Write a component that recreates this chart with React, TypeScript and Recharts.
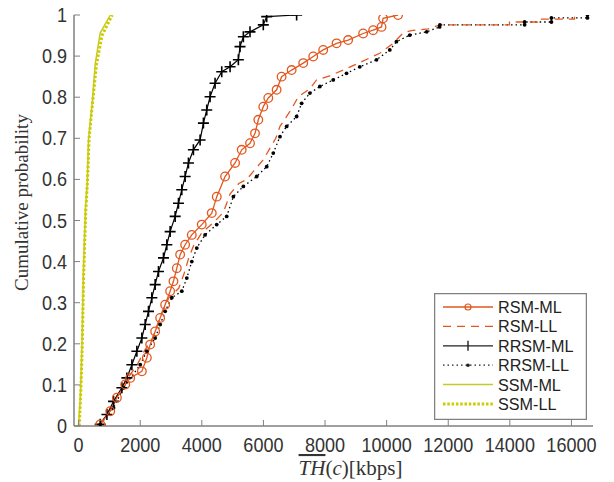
import React from 'react';
import { LineChart, Line, XAxis, YAxis, Legend } from 'recharts';

// x = mean throughput [kbps], y = cumulative probability
const rsmMlX = [703, 1027, 1243, 1513, 1675, 2053, 2215, 2323, 2485, 2647, 2809, 2971, 3079, 3188, 3296, 3458, 3674, 3998, 4323, 4485, 4755, 5079, 5295, 5565, 5727, 5834, 5996, 6158, 6428, 6590, 6916, 7292, 7617, 7940, 8375, 8750, 9237, 9561, 9834, 9885, 10371];
const rsmMlY = [0.004, 0.036, 0.069, 0.101, 0.117, 0.133, 0.166, 0.198, 0.23, 0.263, 0.295, 0.328, 0.352, 0.384, 0.417, 0.441, 0.465, 0.49, 0.518, 0.558, 0.607, 0.64, 0.672, 0.688, 0.712, 0.745, 0.777, 0.798, 0.818, 0.85, 0.866, 0.883, 0.899, 0.915, 0.931, 0.939, 0.955, 0.963, 0.971, 0.992, 1.0];

const rsmLlX = [703, 1050, 1380, 1900, 2130, 2400, 2560, 2720, 2930, 3250, 3420, 3580, 3740, 4000, 4380, 4700, 4920, 5200, 5457, 5996, 6400, 6537, 6900, 7130, 7500, 7725, 8150, 8590, 9150, 9778, 10210, 10530, 10800, 11350, 11720, 13990, 13990, 14900, 14900, 16100, 16100];
const rsmLlY = [0.004, 0.044, 0.093, 0.149, 0.182, 0.214, 0.247, 0.279, 0.312, 0.335, 0.37, 0.41, 0.44, 0.47, 0.495, 0.52, 0.565, 0.59, 0.6, 0.648, 0.7, 0.729, 0.77, 0.801, 0.82, 0.842, 0.852, 0.866, 0.885, 0.907, 0.931, 0.956, 0.962, 0.966, 0.976, 0.976, 0.983, 0.983, 0.99, 0.99, 1.0];

const rrsmMlX = [700, 919, 1134, 1404, 1567, 1729, 1891, 2053, 2161, 2269, 2377, 2485, 2593, 2755, 2863, 2971, 3134, 3242, 3350, 3458, 3566, 3727, 3944, 4052, 4160, 4268, 4430, 4647, 4917, 5186, 5240, 5348, 5564, 5996, 6106, 7078];
const rrsmMlY = [0.004, 0.028, 0.06, 0.093, 0.117, 0.149, 0.182, 0.214, 0.247, 0.279, 0.312, 0.344, 0.376, 0.409, 0.441, 0.473, 0.51, 0.542, 0.575, 0.607, 0.64, 0.672, 0.696, 0.737, 0.769, 0.801, 0.834, 0.862, 0.874, 0.891, 0.923, 0.947, 0.959, 0.976, 0.996, 1.0];

const rrsmLlX = [703, 1134, 1458, 2000, 2215, 2485, 2647, 2809, 3026, 3350, 3512, 3674, 3836, 4105, 4483, 4807, 5024, 5348, 5782, 6106, 6320, 6537, 6754, 7078, 7240, 7509, 7833, 8265, 8698, 9130, 9671, 10102, 10318, 10750, 11300, 11720, 11730, 14480, 14480, 15350, 15350, 16520, 16520];
const rrsmLlY = [0.004, 0.044, 0.093, 0.149, 0.182, 0.214, 0.247, 0.279, 0.312, 0.328, 0.36, 0.4, 0.433, 0.465, 0.49, 0.51, 0.558, 0.583, 0.607, 0.631, 0.664, 0.704, 0.729, 0.753, 0.785, 0.81, 0.826, 0.842, 0.858, 0.874, 0.891, 0.915, 0.935, 0.951, 0.959, 0.971, 0.976, 0.976, 0.983, 0.983, 0.993, 0.993, 1.0];

const ssmMlX = [0, 60, 110, 150, 220, 280, 320, 450, 540, 700, 1030];
const ssmMlY = [0.0, 0.08, 0.2, 0.364, 0.526, 0.59, 0.696, 0.793, 0.882, 0.956, 1.0];

const ssmLlX = [20, 70, 120, 160, 230, 290, 340, 470, 580, 760, 1090];
const ssmLlY = [0.0, 0.08, 0.2, 0.36, 0.52, 0.6, 0.7, 0.8, 0.88, 0.95, 1.0];

const xTicks = [0, 2000, 4000, 6000, 8000, 10000, 12000, 14000, 16000];
const yTicks = [0, 0.1, 0.2, 0.3, 0.4, 0.5, 0.6, 0.7, 0.8, 0.9, 1];

const seriesNames = ['RSM-ML', 'RSM-LL', 'RRSM-ML', 'RRSM-LL', 'SSM-ML', 'SSM-LL'];

const ORANGE = '#e2571f';
const YELLOW = '#c6c928';
const YELLOW_DOT = '#cccc00';
const AXIS = '#808080';
const SANS = '"Liberation Sans", Arial, sans-serif';
const SERIF = '"Liberation Serif", "DejaVu Serif", serif';

const toPoints = (xs: number[], ys: number[]) => xs.map((x, i) => ({ x, y: ys[i] }));

const rsmMl = toPoints(rsmMlX, rsmMlY);
const rsmLl = toPoints(rsmLlX, rsmLlY);
const rrsmMl = toPoints(rrsmMlX, rrsmMlY);
const rrsmLl = toPoints(rrsmLlX, rrsmLlY);
const ssmMl = toPoints(ssmMlX, ssmMlY);
const ssmLl = toPoints(ssmLlX, ssmLlY);

const fmtY = (v: number) => (v === 0 ? '0' : v === 1 ? '1' : v.toFixed(1));

const BottomTick = ({ x, y, payload }: any) => (
  <g>
    <line x1={x} y1={y} x2={x} y2={y - 6} stroke={AXIS} />
    <text
      transform={`translate(${x},${y + 26}) scale(0.86,1)`}
      textAnchor="middle"
      fontFamily={SANS}
      fontSize={21}
      fill="#333"
    >
      {payload.value}
    </text>
  </g>
);

const TopTick = ({ x, y }: any) => <line x1={x} y1={y} x2={x} y2={y + 6} stroke={AXIS} />;

const LeftTick = ({ x, y, payload }: any) => (
  <g>
    <line x1={x} y1={y} x2={x + 6} y2={y} stroke={AXIS} />
    <text
      transform={`translate(${x - 7},${y + 7}) scale(0.86,1)`}
      textAnchor="end"
      fontFamily={SANS}
      fontSize={21}
      fill="#333"
    >
      {fmtY(payload.value)}
    </text>
  </g>
);

const RightTick = ({ x, y }: any) => <line x1={x} y1={y} x2={x - 6} y2={y} stroke={AXIS} />;

const PlusDot = ({ cx, cy }: any) => (
  <path d={`M${cx - 5.5},${cy}H${cx + 5.5}M${cx},${cy - 5.5}V${cy + 5.5}`} stroke="#000" strokeWidth={1.6} />
);

const SmallDot = ({ cx, cy }: any) => <circle cx={cx} cy={cy} r={1.9} fill="#000" />;

const CircleDot = ({ cx, cy }: any) => (
  <circle cx={cx} cy={cy} r={4.3} fill="none" stroke={ORANGE} strokeWidth={1.3} />
);

const LegendBox = () => {
  const rows = [14, 33.4, 52.8, 72.2, 91.6, 111];
  return (
    <svg width={153} height={127} style={{ display: 'block' }}>
      <rect x={0.5} y={0.5} width={152} height={126} fill="#fff" stroke={AXIS} strokeWidth={1.5} />
      <line x1={9} x2={59} y1={rows[0]} y2={rows[0]} stroke={ORANGE} strokeWidth={1.3} />
      <circle cx={34} cy={rows[0]} r={3} fill="none" stroke={ORANGE} strokeWidth={1.2} />
      <line x1={9} x2={59} y1={rows[1]} y2={rows[1]} stroke={ORANGE} strokeWidth={1.3} strokeDasharray="8 6" />
      <line x1={9} x2={59} y1={rows[2]} y2={rows[2]} stroke="#222" strokeWidth={1.3} />
      <path d={`M34,${rows[2] - 5}V${rows[2] + 5}`} stroke="#222" strokeWidth={1.4} />
      <line x1={9} x2={59} y1={rows[3]} y2={rows[3]} stroke="#222" strokeWidth={1.3} strokeDasharray="1.5 3" />
      <circle cx={34} cy={rows[3]} r={1.8} fill="#222" />
      <line x1={9} x2={59} y1={rows[4]} y2={rows[4]} stroke={YELLOW} strokeWidth={1.5} />
      <line x1={9} x2={59} y1={rows[5]} y2={rows[5]} stroke={YELLOW_DOT} strokeWidth={3} strokeDasharray="2.5 1.8" />
      {seriesNames.map((name, i) => (
        <text
          key={name}
          transform={`translate(64,${rows[i] + 6}) scale(0.98,1)`}
          fontFamily={SANS}
          fontSize={16.5}
          fill="#222"
        >
          {name}
        </text>
      ))}
    </svg>
  );
};

const YLabel = ({ viewBox }: any) => (
  <text
    transform={`translate(${viewBox.x + 28},${viewBox.y + viewBox.height / 2 - 18}) rotate(-90)`}
    textAnchor="middle"
    fontFamily={SERIF}
    fontSize={19}
    fill="#333"
  >
    Cumulative probability
  </text>
);

const XLabel = ({ viewBox }: any) => (
  <text
    x={viewBox.x + viewBox.width / 2 + 17}
    y={viewBox.y + 49}
    textAnchor="middle"
    fontFamily={SERIF}
    fontSize={21}
    fill="#333"
  >
    <tspan fontStyle="italic" style={{ textDecoration: 'overline' }}>TH</tspan>
    <tspan>(</tspan>
    <tspan fontStyle="italic">c</tspan>
    <tspan>)[kbps]</tspan>
  </text>
);

export default function App() {
  return (
    <div style={{ position: 'absolute', left: 0, top: 0, width: 614, height: 482, background: '#fff' }}>
      <LineChart width={614} height={482} margin={{ top: 15, right: 21, bottom: 0, left: 0 }}>
        <XAxis
          xAxisId="b"
          type="number"
          dataKey="x"
          domain={[-150, 16700]}
          ticks={xTicks}
          interval={0}
          allowDataOverflow
          height={56}
          tickSize={0}
          tickMargin={0}
          tick={<BottomTick />}
          axisLine={{ stroke: AXIS, strokeWidth: 1.5 }}
          label={<XLabel />}
        />
        <XAxis
          xAxisId="t"
          orientation="top"
          type="number"
          dataKey="x"
          domain={[-150, 16700]}
          ticks={xTicks}
          interval={0}
          allowDataOverflow
          height={0}
          tickSize={0}
          tickMargin={0}
          tick={<TopTick />}
          axisLine={{ stroke: AXIS, strokeWidth: 1.5 }}
        />
        <YAxis
          yAxisId="l"
          type="number"
          domain={[0, 1]}
          ticks={yTicks}
          interval={0}
          allowDataOverflow
          width={74}
          tickSize={0}
          tickMargin={0}
          tick={<LeftTick />}
          axisLine={{ stroke: AXIS, strokeWidth: 1.5 }}
          label={<YLabel />}
        />
        <YAxis
          yAxisId="r"
          orientation="right"
          type="number"
          domain={[0, 1]}
          ticks={yTicks}
          interval={0}
          allowDataOverflow
          width={0}
          tickSize={0}
          tickMargin={0}
          tick={<RightTick />}
          axisLine={{ stroke: AXIS, strokeWidth: 1.5 }}
        />
        <Line
          xAxisId="b"
          yAxisId="l"
          data={ssmMl}
          dataKey="y"
          type="linear"
          stroke={YELLOW}
          strokeWidth={1.5}
          dot={false}
          isAnimationActive={false}
        />
        <Line
          xAxisId="b"
          yAxisId="l"
          data={ssmLl}
          dataKey="y"
          type="linear"
          stroke={YELLOW_DOT}
          strokeWidth={3}
          strokeDasharray="2.5 1.8"
          dot={false}
          isAnimationActive={false}
        />
        <Line
          xAxisId="b"
          yAxisId="l"
          data={rrsmLl}
          dataKey="y"
          type="linear"
          stroke="#000"
          strokeWidth={1.3}
          strokeDasharray="1.5 3"
          dot={<SmallDot />}
          isAnimationActive={false}
        />
        <Line
          xAxisId="b"
          yAxisId="l"
          data={rsmLl}
          dataKey="y"
          type="linear"
          stroke={ORANGE}
          strokeWidth={1.3}
          strokeDasharray="8 6"
          dot={false}
          isAnimationActive={false}
        />
        <Line
          xAxisId="b"
          yAxisId="l"
          data={rrsmMl}
          dataKey="y"
          type="linear"
          stroke="#000"
          strokeWidth={1.2}
          dot={<PlusDot />}
          isAnimationActive={false}
        />
        <Line
          xAxisId="b"
          yAxisId="l"
          data={rsmMl}
          dataKey="y"
          type="linear"
          stroke={ORANGE}
          strokeWidth={1.3}
          dot={<CircleDot />}
          isAnimationActive={false}
        />
        <Legend
          layout="vertical"
          align="center"
          verticalAlign="middle"
          content={<LegendBox />}
          wrapperStyle={{ position: 'absolute', left: 434, top: 293, width: 153, height: 127 }}
        />
      </LineChart>
    </div>
  );
}
